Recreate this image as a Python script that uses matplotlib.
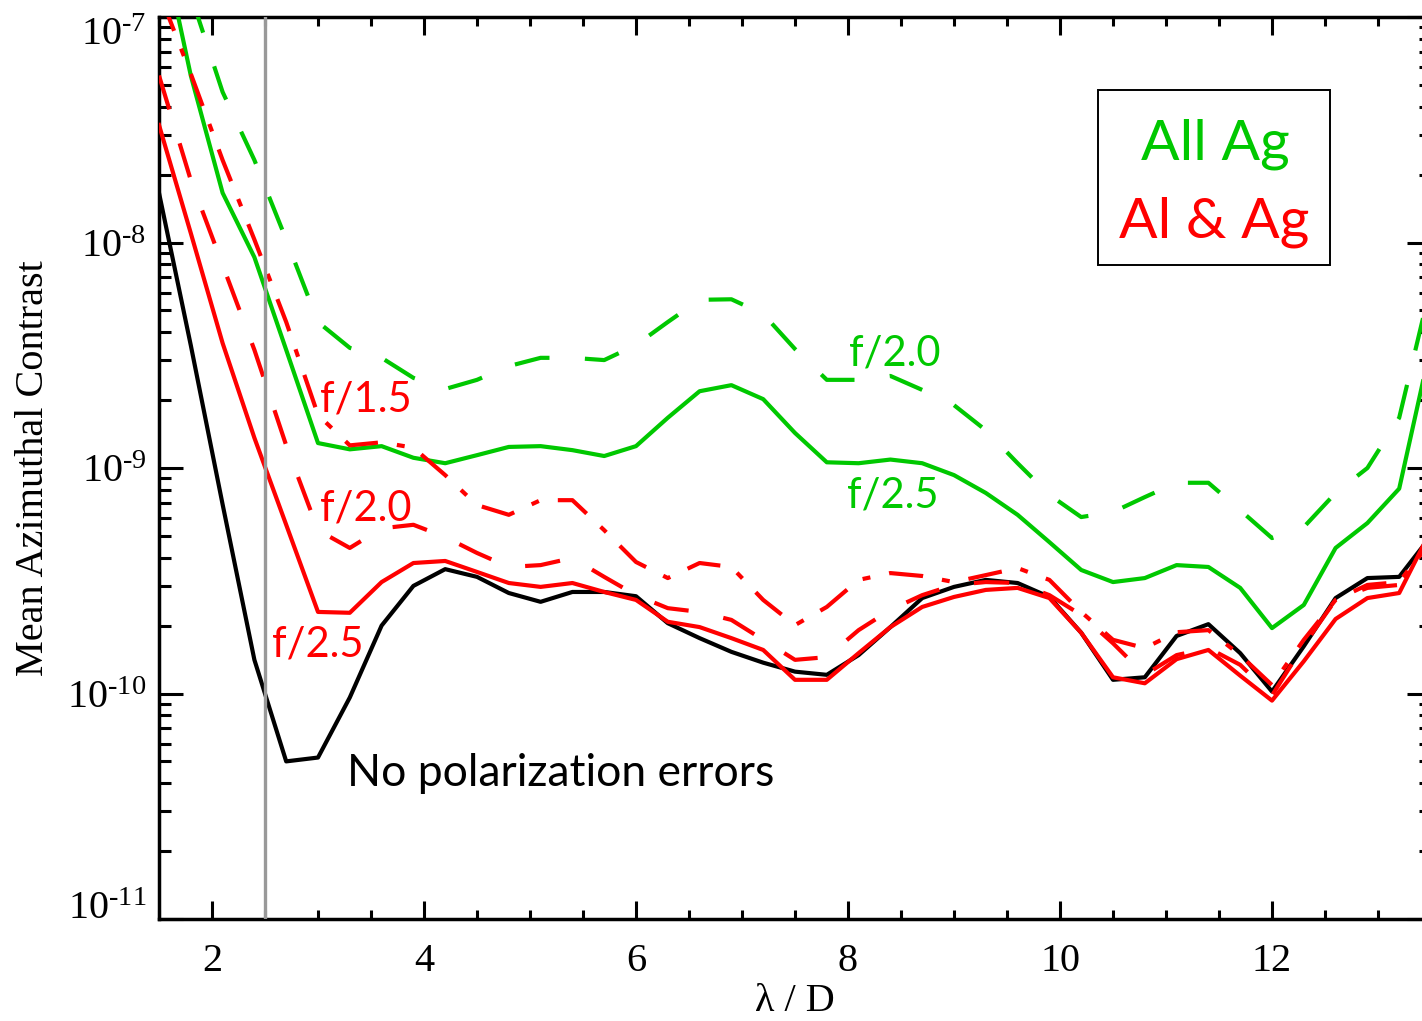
import numpy as np
import matplotlib
matplotlib.use('Agg')
import matplotlib.pyplot as plt
from matplotlib.ticker import FixedLocator, FixedFormatter, MultipleLocator, LogLocator, NullFormatter
from matplotlib.patches import Rectangle

plt.rcParams['font.family'] = ['Liberation Serif', 'DejaVu Serif']
plt.rcParams['mathtext.fontset'] = 'custom'
plt.rcParams['mathtext.rm'] = 'Liberation Serif'

# ---------------- data ----------------
lam_d = [1.5, 1.8, 2.1, 2.4, 2.7, 3.0, 3.3, 3.6, 3.9, 4.2, 4.5, 4.8, 5.1, 5.4,
         5.7, 6.0, 6.3, 6.6, 6.9, 7.2, 7.5, 7.8, 8.1, 8.4, 8.7, 9.0, 9.3, 9.6,
         9.9, 10.2, 10.5, 10.8, 11.1, 11.4, 11.7, 12.0, 12.3, 12.6, 12.9, 13.2, 13.5]

no_pol = [1.66e-8, 3.5e-9, 6.9e-10, 1.41e-10, 5.0e-11, 5.2e-11, 9.6e-11, 2.0e-10,
          3.0e-10, 3.56e-10, 3.29e-10, 2.79e-10, 2.55e-10, 2.82e-10, 2.82e-10,
          2.70e-10, 2.05e-10, 1.76e-10, 1.53e-10, 1.37e-10, 1.25e-10, 1.21e-10,
          1.48e-10, 1.97e-10, 2.65e-10, 2.97e-10, 3.19e-10, 3.09e-10, 2.68e-10,
          1.86e-10, 1.15e-10, 1.18e-10, 1.80e-10, 2.03e-10, 1.51e-10, 1.02e-10,
          1.62e-10, 2.65e-10, 3.25e-10, 3.29e-10, 5.0e-10]

alag_f25 = [3.32e-8, 1.10e-8, 3.58e-9, 1.36e-9, 5.6e-10, 2.30e-10, 2.28e-10, 3.12e-10,
            3.79e-10, 3.87e-10, 3.46e-10, 3.09e-10, 2.97e-10, 3.09e-10, 2.82e-10,
            2.60e-10, 2.08e-10, 1.97e-10, 1.76e-10, 1.56e-10, 1.15e-10, 1.15e-10,
            1.51e-10, 1.97e-10, 2.42e-10, 2.68e-10, 2.88e-10, 2.94e-10, 2.65e-10,
            1.86e-10, 1.18e-10, 1.11e-10, 1.42e-10, 1.56e-10, 1.20e-10, 9.3e-11,
            1.39e-10, 2.14e-10, 2.65e-10, 2.79e-10, 5.3e-10]

alag_f20 = [5.5e-8, 1.89e-8, 7.95e-9, 3.34e-9, 1.26e-9, 5.3e-10, 4.42e-10, 5.4e-10,
            5.6e-10, 4.94e-10, 4.20e-10, 3.64e-10, 3.71e-10, 3.99e-10, 3.29e-10,
            2.73e-10, 2.39e-10, 2.30e-10, 2.12e-10, 1.73e-10, 1.41e-10, 1.45e-10,
            1.91e-10, 2.35e-10, 2.73e-10, 3.03e-10, 3.12e-10, 3.09e-10, 2.73e-10,
            2.23e-10, 1.67e-10, 1.21e-10, 1.48e-10, 1.59e-10, 1.34e-10, 9.8e-11,
            1.64e-10, 2.60e-10, 2.94e-10, 3.03e-10, 4.79e-10]

alag_f15 = [1.29e-7, 5.6e-8, 2.32e-8, 1.03e-8, 4.44e-9, 1.72e-9, 1.26e-9, 1.30e-9,
            1.23e-9, 9.3e-10, 6.85e-10, 6.2e-10, 7.2e-10, 7.2e-10, 5.3e-10,
            3.83e-10, 3.25e-10, 3.79e-10, 3.64e-10, 2.60e-10, 2.01e-10, 2.42e-10,
            3.19e-10, 3.42e-10, 3.32e-10, 3.12e-10, 3.35e-10, 3.60e-10, 3.19e-10,
            2.30e-10, 1.73e-10, 1.59e-10, 1.87e-10, 1.91e-10, 1.48e-10, 1.09e-10,
            1.73e-10, 2.60e-10, 3.03e-10, 3.12e-10, 4.79e-10]

allag_f25 = [2.5e-7, 5.5e-8, 1.66e-8, 8.6e-9, 3.34e-9, 1.29e-9, 1.21e-9, 1.25e-9,
             1.11e-9, 1.05e-9, 1.14e-9, 1.24e-9, 1.25e-9, 1.20e-9, 1.13e-9,
             1.25e-9, 1.67e-9, 2.19e-9, 2.33e-9, 2.02e-9, 1.43e-9, 1.06e-9,
             1.05e-9, 1.09e-9, 1.05e-9, 9.3e-10, 7.75e-10, 6.2e-10, 4.69e-10,
             3.53e-10, 3.12e-10, 3.25e-10, 3.71e-10, 3.64e-10, 2.94e-10, 1.95e-10,
             2.47e-10, 4.42e-10, 5.7e-10, 8.1e-10, 3.5e-9]

allag_f20 = [5.0e-7, 1.25e-7, 4.65e-8, 2.32e-8, 1.03e-8, 4.44e-9, 3.41e-9, 3.08e-9,
             2.51e-9, 2.24e-9, 2.46e-9, 2.83e-9, 3.08e-9, 3.08e-9, 3.01e-9,
             3.51e-9, 4.44e-9, 5.57e-9, 5.6e-9, 4.82e-9, 3.37e-9, 2.46e-9,
             2.46e-9, 2.56e-9, 2.22e-9, 1.90e-9, 1.47e-9, 1.05e-9, 7.6e-10,
             6.06e-10, 6.38e-10, 7.43e-10, 8.6e-10, 8.6e-10, 6.5e-10, 4.89e-10,
             5.47e-10, 7.75e-10, 1.0e-9, 1.67e-9, 6.5e-9]

cutoff_lam = 2.5
xtick_vals = [2, 4, 6, 8, 10, 12]
xtick_labels = ['2', '4', '6', '8', '10', '12']
ytick_vals = [1e-11, 1e-10, 1e-9, 1e-8, 1e-7]
ytick_labels = [r'$\mathregular{10^{‐11}}$', r'$\mathregular{10^{‐10}}$',
                r'$\mathregular{10^{‐9}}$', r'$\mathregular{10^{‐8}}$',
                r'$\mathregular{10^{‐7}}$']

GREEN = '#00C800'
RED = '#FF0000'

# ---------------- figure ----------------
W, H = 1422, 1021
fig = plt.figure(figsize=(W / 100, H / 100), dpi=100)
L, R, T, B = 159, 1431, 17, 919
ax = fig.add_axes([L / W, (H - B) / H, (R - L) / W, (B - T) / H])

lw = 3.0
dashed = (0, (8.5, 8.5))
dashdot = (0, (8.2, 4.6, 1.9, 4.6))

ax.plot(lam_d, no_pol, color='black', lw=lw, zorder=3)
ax.plot(lam_d, allag_f25, color=GREEN, lw=lw, zorder=4)
ax.plot(lam_d, allag_f20, color=GREEN, lw=lw, ls=dashed, zorder=4)
ax.plot(lam_d, alag_f15, color=RED, lw=lw, ls=dashdot, zorder=5)
ax.plot(lam_d, alag_f20, color=RED, lw=lw, ls=dashed, zorder=5)
ax.plot(lam_d, alag_f25, color=RED, lw=lw, zorder=5)
ax.axvline(cutoff_lam, color='#999999', lw=2.4, zorder=6)

ax.set_yscale('log')
ax.set_xlim(1.5, 13.5)
ax.set_ylim(1e-11, 1e-7)

ax.xaxis.set_major_locator(FixedLocator(xtick_vals))
ax.xaxis.set_major_formatter(FixedFormatter(xtick_labels))
ax.xaxis.set_minor_locator(MultipleLocator(0.5))
ax.yaxis.set_major_locator(FixedLocator(ytick_vals))
ax.yaxis.set_major_formatter(FixedFormatter(ytick_labels))
ax.yaxis.set_minor_locator(LogLocator(base=10, subs=np.arange(2, 10)))
ax.yaxis.set_minor_formatter(NullFormatter())

ax.tick_params(axis='both', which='both', direction='in', top=True, right=True,
               width=2.2, color='black')
ax.tick_params(axis='x', which='major', length=13, pad=17, labelsize=29)
ax.tick_params(axis='x', which='minor', length=6.5)
ax.tick_params(axis='y', which='major', length=17.5, pad=9, labelsize=29)
ax.tick_params(axis='y', which='minor', length=8.5)
for s in ax.spines.values():
    s.set_linewidth(2.5)

yt = ax.yaxis.get_major_ticks()
yt[0].label1.set_va('baseline')
yt[-1].label1.set_va('top')

ax.set_xlabel('λ / D', fontsize=29)
ax.xaxis.set_label_coords(0.5, -0.071)
ax.set_ylabel('Mean Azimuthal Contrast', fontsize=29)
ax.yaxis.set_label_coords(-0.084, 0.5)

def fx(px):
    return (px - L) / (R - L)

def fy(py):
    return (B - py) / (B - T)

sans = ['Lato', 'DejaVu Sans']
ann = 30
ax.text(fx(320), fy(411), 'f/1.5', color=RED, fontsize=ann, family=sans,
        transform=ax.transAxes, ha='left', va='baseline', zorder=7)
ax.text(fx(320), fy(520), 'f/2.0', color=RED, fontsize=ann, family=sans,
        transform=ax.transAxes, ha='left', va='baseline', zorder=7)
ax.text(fx(272), fy(656), 'f/2.5', color=RED, fontsize=ann, family=sans,
        transform=ax.transAxes, ha='left', va='baseline', zorder=7)
ax.text(fx(347), fy(786), 'No polarization errors', color='black', fontsize=32,
        family=sans, transform=ax.transAxes, ha='left', va='baseline', zorder=7)
ax.text(fx(849), fy(365), 'f/2.0', color=GREEN, fontsize=ann, family=sans,
        transform=ax.transAxes, ha='left', va='baseline', zorder=7)
ax.text(fx(847), fy(507), 'f/2.5', color=GREEN, fontsize=ann, family=sans,
        transform=ax.transAxes, ha='left', va='baseline', zorder=7)

ax.add_patch(Rectangle((fx(1098), fy(265)), fx(1330) - fx(1098), fy(90) - fy(265),
                       transform=ax.transAxes, fill=False, ec='black', lw=1.4, zorder=7))
ax.text(fx(1215), fy(159), 'All Ag', color=GREEN, fontsize=41, family=sans,
        transform=ax.transAxes, ha='center', va='baseline', zorder=7)
ax.text(fx(1214), fy(237), 'Al & Ag', color=RED, fontsize=41, family=sans,
        transform=ax.transAxes, ha='center', va='baseline', zorder=7)

fig.savefig('out.png', dpi=100)
